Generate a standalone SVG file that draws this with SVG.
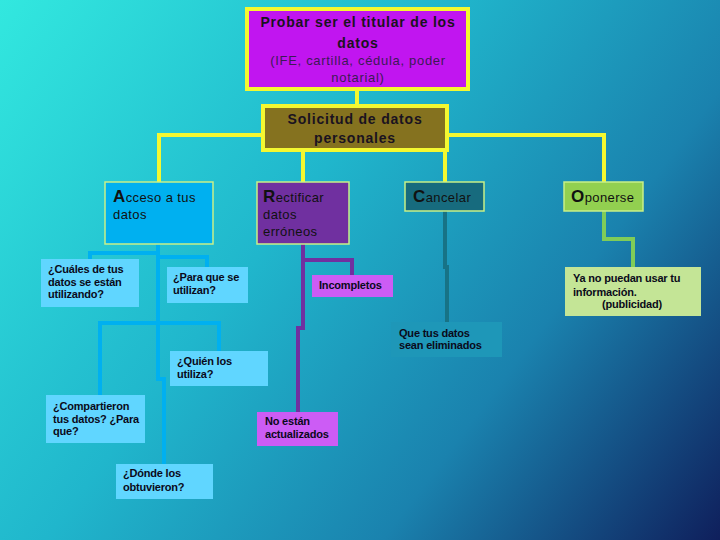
<svg xmlns="http://www.w3.org/2000/svg" width="720" height="540" viewBox="0 0 720 540">
<defs>
<linearGradient id="bg" x1="0" y1="0" x2="720" y2="540" gradientUnits="userSpaceOnUse">
<stop offset="0" stop-color="#32e8df"/>
<stop offset="0.4" stop-color="#20b6cc"/>
<stop offset="0.7" stop-color="#1a82ae"/>
<stop offset="1" stop-color="#0f1f5c"/>
</linearGradient>
<style>
.t{font-family:"Liberation Sans",Arial,sans-serif;fill:#111;}
.h{font-weight:bold;font-size:14px;letter-spacing:0.8px;fill:#1a1220;}
.sub{font-size:13px;letter-spacing:0.7px;fill:#3d1a55;}
.cap{font-weight:bold;font-size:17px;}
.lt{font-size:13px;letter-spacing:0.4px;}
.s{font-weight:bold;font-size:11px;letter-spacing:-0.2px;fill:#0a0a1a;}
.yl{stroke:#f4f830;stroke-width:4;fill:none;}
.bl{stroke:#00b0f0;stroke-width:4;fill:none;}
.pl{stroke:#7030a0;stroke-width:4;fill:none;}
.tl{stroke:#177386;stroke-width:4;fill:none;}
.gl{stroke:#80cc58;stroke-width:4;fill:none;}
.cb{stroke:#c8f088;stroke-width:1.5;}
.lb{fill:#60d6ff;}
.mg{fill:#cc5cf5;}
</style>
</defs>
<rect width="720" height="540" fill="url(#bg)"/>
<g id="connectors">
<path class="yl" d="M357 91V104"/>
<path class="yl" d="M261 135H159V182"/>
<path class="yl" d="M448 135H604V182"/>
<path class="yl" d="M303 152V182"/>
<path class="yl" d="M445 152V182"/>
<path class="bl" d="M158 244V379H164V464"/>
<path class="bl" d="M158 253H90V259"/>
<path class="bl" d="M158 257H207V267"/>
<path class="bl" d="M158 323H100V395"/>
<path class="bl" d="M158 323H219V351"/>
<path class="pl" d="M303 244V328H298V412"/>
<path class="pl" d="M303 260H352V275"/>
<path class="tl" d="M445 211V267H447V322"/>
<path class="gl" d="M604 211V239H633V267"/>
</g>
<g id="n-probar">
<rect x="247" y="9" width="221" height="80" fill="#c115f0" stroke="#f4f830" stroke-width="4"/>
<text class="t h" x="358" y="27" text-anchor="middle">Probar ser el titular de los</text>
<text class="t h" x="358" y="48" text-anchor="middle">datos</text>
<text class="t sub" x="358" y="65" text-anchor="middle">(IFE, cartilla, cédula, poder</text>
<text class="t sub" x="358" y="82" text-anchor="middle">notarial)</text>
</g>
<g id="n-solicitud">
<rect x="263" y="106" width="184" height="44" fill="#85721f" stroke="#f4f830" stroke-width="4"/>
<text class="t h" x="355" y="124" text-anchor="middle">Solicitud de datos</text>
<text class="t h" x="355" y="143" text-anchor="middle">personales</text>
</g>
<g id="n-acceso">
<rect x="105" y="182" width="108" height="62" fill="#00b0f0" class="cb"/>
<text class="t lt" x="113" y="202"><tspan class="cap">A</tspan>cceso a tus</text>
<text class="t lt" x="113" y="219">datos</text>
</g>
<g id="n-rectificar">
<rect x="257" y="182" width="92" height="62" fill="#7030a0" class="cb"/>
<text class="t lt" x="263" y="202" fill="#222"><tspan class="cap">R</tspan>ectificar</text>
<text class="t lt" x="263" y="219" fill="#222">datos</text>
<text class="t lt" x="263" y="236" fill="#222">erróneos</text>
</g>
<g id="n-cancelar">
<rect x="405" y="182" width="79" height="29" fill="#176b7e" class="cb"/>
<text class="t lt" x="413" y="202"><tspan class="cap">C</tspan>ancelar</text>
</g>
<g id="n-oponerse">
<rect x="564" y="182" width="79" height="29" fill="#92d050" class="cb"/>
<text class="t lt" x="571" y="202"><tspan class="cap">O</tspan>ponerse</text>
</g>
<g id="n-cuales">
<rect class="lb" x="41" y="259" width="98" height="48"/>
<text class="t s" x="48" y="273">¿Cuáles de tus</text>
<text class="t s" x="48" y="286">datos se están</text>
<text class="t s" x="48" y="298">utilizando?</text>
</g>
<g id="n-para">
<rect class="lb" x="167" y="267" width="81" height="36"/>
<text class="t s" x="173" y="281">¿Para que se</text>
<text class="t s" x="173" y="294">utilizan?</text>
</g>
<g id="n-quien">
<rect class="lb" x="170" y="351" width="98" height="35"/>
<text class="t s" x="177" y="365">¿Quién los</text>
<text class="t s" x="177" y="378">utiliza?</text>
</g>
<g id="n-compartieron">
<rect class="lb" x="46" y="395" width="99" height="48"/>
<text class="t s" x="53" y="410">¿Compartieron</text>
<text class="t s" x="53" y="423">tus datos? ¿Para</text>
<text class="t s" x="53" y="435">que?</text>
</g>
<g id="n-donde">
<rect class="lb" x="116" y="464" width="97" height="35"/>
<text class="t s" x="123" y="477">¿Dónde los</text>
<text class="t s" x="123" y="491">obtuvieron?</text>
</g>
<g id="n-incompletos">
<rect class="mg" x="312" y="275" width="81" height="22"/>
<text class="t s" x="319" y="289">Incompletos</text>
</g>
<g id="n-noestan">
<rect class="mg" x="257" y="412" width="81" height="34"/>
<text class="t s" x="265" y="425">No están</text>
<text class="t s" x="265" y="438">actualizados</text>
</g>
<g id="n-eliminados">
<rect x="391" y="322" width="111" height="35" fill="#1e97b8"/>
<text class="t s" x="399" y="337">Que tus datos</text>
<text class="t s" x="399" y="349">sean eliminados</text>
</g>
<g id="n-yano">
<rect x="565" y="267" width="136" height="49" fill="#c4e596"/>
<text class="t s" x="573" y="282">Ya no puedan usar tu</text>
<text class="t s" x="573" y="296">información.</text>
<text class="t s" x="602" y="308">(publicidad)</text>
</g>
</svg>
